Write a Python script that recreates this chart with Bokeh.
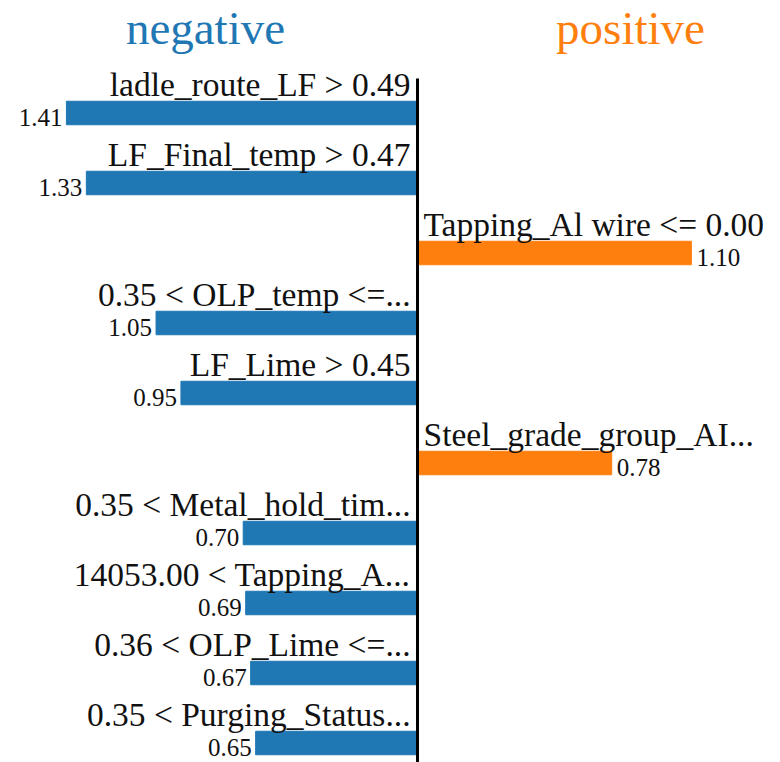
import numpy as np
from bokeh.plotting import figure
from bokeh.models import ColumnDataSource, Range1d
from bokeh.core.properties import value
from bokeh.embed import file_html
from bokeh.resources import INLINE

# ---- data ----
features = [
    "ladle_route_LF > 0.49",
    "LF_Final_temp > 0.47",
    "Tapping_Al wire <= 0.00",
    "0.35 < OLP_temp <=...",
    "LF_Lime > 0.45",
    "Steel_grade_group_AI...",
    "0.35 < Metal_hold_tim...",
    "14053.00 < Tapping_A...",
    "0.36 < OLP_Lime <=...",
    "0.35 < Purging_Status...",
]
weights = [-1.41, -1.33, 1.10, -1.05, -0.95, 0.78, -0.70, -0.69, -0.67, -0.65]
class_names = ["negative", "positive"]

NEG = "#1f77b4"
POS = "#ff7f0e"
FONT = value("Liberation Serif")

W, H = 780, 762
px_x = 249.0   # pixels per unit on x
px_y = 70.0    # pixels per row
x0 = 417.0     # pixel position of zero
y_top = 112.5 / px_y
bar_h = 23.5 / px_y

LAB_FS, VAL_FS, TIT_FS = 33.5, 25, 47
BASE_CORR = 0.33  # baseline correction (em) for svg text rendering

p = figure(width=W, height=H, output_backend="svg", toolbar_location=None,
           x_range=Range1d(-x0 / px_x, (W - x0) / px_x),
           y_range=Range1d(y_top - H / px_y, y_top),
           min_border=0, outline_line_color=None)
p.xaxis.visible = False
p.yaxis.visible = False
p.grid.visible = False
p.background_fill_color = "white"
p.border_fill_color = "white"

n = len(features)
ys = -np.arange(n, dtype=float)
w = np.array(weights)
colors = [POS if v > 0 else NEG for v in weights]

src = ColumnDataSource(dict(y=ys, right=w, color=colors))
p.hbar(y="y", left=0, right="right", height=bar_h, color="color", source=src)

# vertical axis line
p.segment(x0=[0], y0=[y_top - 78 / px_y], x1=[0], y1=[y_top - H / px_y - 1],
          line_color="black", line_width=3)

neg = w < 0
pos = ~neg

# feature labels
lab_y = ys + bar_h / 2 + (6 + BASE_CORR * LAB_FS) / px_y
p.text(x=np.zeros(neg.sum()), y=lab_y[neg], text=[f for f, m in zip(features, neg) if m],
       text_align="right", text_baseline="alphabetic", x_offset=-7,
       text_font=FONT, text_font_size=f"{LAB_FS}px", text_color="#111111")
p.text(x=np.zeros(pos.sum()), y=lab_y[pos], text=[f for f, m in zip(features, pos) if m],
       text_align="left", text_baseline="alphabetic", x_offset=6,
       text_font=FONT, text_font_size=f"{LAB_FS}px", text_color="#111111")

# value labels
val_y = ys - bar_h / 2 + (-1 + BASE_CORR * VAL_FS) / px_y
vals = ["%.2f" % abs(v) for v in weights]
p.text(x=w[neg], y=val_y[neg], text=[t for t, m in zip(vals, neg) if m],
       text_align="right", text_baseline="alphabetic", x_offset=-4,
       text_font=FONT, text_font_size=f"{VAL_FS}px", text_color="#111111")
p.text(x=w[pos], y=val_y[pos], text=[t for t, m in zip(vals, pos) if m],
       text_align="left", text_baseline="alphabetic", x_offset=5,
       text_font=FONT, text_font_size=f"{VAL_FS}px", text_color="#111111")

# class titles
title_y = y_top - (43 - BASE_CORR * TIT_FS) / px_y
p.text(x=[-(x0 - 205) / px_x], y=[title_y], text=[class_names[0]],
       text_align="center", text_baseline="alphabetic",
       text_font=FONT, text_font_size=f"{TIT_FS}px", text_color=NEG)
p.text(x=[(630 - x0) / px_x], y=[title_y], text=[class_names[1]],
       text_align="center", text_baseline="alphabetic",
       text_font=FONT, text_font_size=f"{TIT_FS}px", text_color=POS)

open("out.html", "w").write(file_html(p, INLINE))
